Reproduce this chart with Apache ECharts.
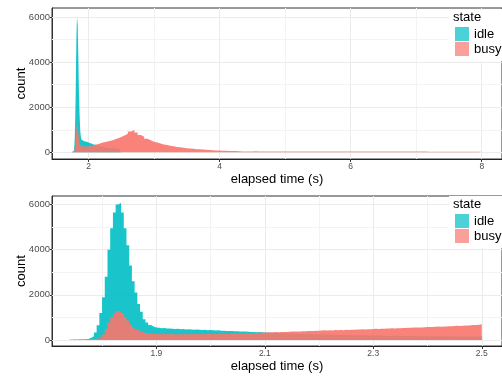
<!DOCTYPE html>
<html><head><meta charset="utf-8">
<script src="https://cdn.jsdelivr.net/npm/echarts@6/dist/echarts.min.js"></script>
<style>html,body{margin:0;padding:0;background:#fff}#c{width:502px;height:377px}</style>
</head><body><div id="c"></div>
<script>
// ---- data ----
const states = ['idle', 'busy'];
const fineStart = 1.74, fineWidth = 0.005;   // bins 1.740 .. 2.500
const idleFine = [
  0, 5, 10, 8, 20, 25, 40, 100, 170, 330,
  650, 1200, 1900, 2800, 4000, 4950, 5650, 6000, 6080, 5650, 4950, 4200, 3300, 2600, 2100, 1600, 1250, 920, 780, 670, 600, 560,
  545, 520, 530, 505, 512, 498, 490, 502, 480, 485,
  470, 478, 462, 455, 468, 450, 441, 452, 436, 440,
  428, 420, 432, 410, 415, 402, 398, 405, 390, 385,
  380, 372, 378, 362, 360, 355, 348, 352, 340, 336,
  330, 322, 318, 325, 310, 305, 300, 296, 290, 292,
  285, 280, 276, 270, 272, 265, 262, 258, 255, 250,
  248, 245, 240, 238, 236, 232, 230, 226, 225, 222,
  220, 218, 215, 212, 210, 208, 206, 205, 202, 200,
  198, 196, 195, 192, 190, 190, 188, 186, 185, 183,
  182, 180, 180, 178, 176, 175, 174, 172, 172, 170,
  170, 168, 168, 166, 165, 165, 164, 162, 162, 160,
  160, 160, 158, 158, 157, 156, 156, 155, 155, 154
];
const busyFine = [
  25, 35, 20, 30, 28, 35, 30, 45, 40, 55,
  70, 110, 240, 480, 780, 1020, 1190, 1280, 1290, 1200, 1030, 860, 700, 570, 470, 400, 350, 315, 295, 280, 270, 262,
  258, 265, 250, 262, 255, 268, 248, 260, 255, 264,
  252, 258, 266, 250, 262, 256, 270, 258, 262, 268,
  265, 272, 260, 275, 268, 280, 272, 285, 278, 290,
  295, 288, 300, 305, 298, 312, 318, 310, 325, 330,
  335, 342, 338, 350, 345, 355, 360, 352, 368, 372,
  375, 380, 372, 390, 385, 398, 402, 395, 410, 415,
  420, 428, 418, 432, 425, 440, 435, 445, 438, 450,
  448, 460, 455, 468, 462, 475, 470, 482, 478, 490,
  495, 488, 502, 498, 510, 505, 518, 512, 525, 520,
  535, 530, 545, 540, 552, 550, 560, 556, 568, 572,
  578, 572, 588, 594, 590, 602, 598, 612, 608, 620,
  628, 622, 636, 642, 638, 652, 660, 668, 675, 700
];
const tailStart = 2.5, tailWidth = 0.05;     // busy tail 2.50 .. 8.00
const busyTail = [
  740, 820, 925, 985, 880, 770, 690, 600, 530, 470,
  430, 385, 345, 320, 290, 265, 240, 220, 200, 185,
  170, 155, 140, 130, 120, 110, 100, 88, 82, 76,
  72, 68, 62, 58, 55, 50, 38, 36, 35, 34,
  42, 41, 41, 40, 40, 40, 39, 39, 39, 38,
  38, 38, 38, 37, 37, 37, 37, 36, 36, 36,
  36, 36, 35, 35, 35, 35, 35, 34, 34, 34,
  34, 34, 34, 33, 33, 33, 33, 33, 33, 32,
  32, 32, 32, 32, 32, 31, 31, 31, 31, 31,
  31, 31, 31, 30, 30, 30, 30, 30, 30, 30,
  30, 30, 30, 29, 29, 29, 29, 29, 29, 29
];
const topXTicks = [2, 4, 6, 8];
const topXMinor = [3, 5, 7];
const botXTicks = [1.9, 2.1, 2.3, 2.5];
const botXMinor = [1.8, 2.0, 2.2, 2.4];
const yTicks = [0, 2000, 4000, 6000];
const yMinor = [1000, 3000, 5000];

// ---- helpers ----
const FONT = 'Liberation Sans, Arial, Helvetica, sans-serif';
const idleFill = 'rgba(0,191,196,0.9)';
const busyFill = 'rgba(248,118,109,0.9)';
const idleKey = 'rgba(0,191,196,0.7)';
const busyKey = 'rgba(248,118,109,0.7)';
const r4 = v => Math.round(v * 10000) / 10000;
function stepPts(start, width, vals) { return vals.map((v, i) => [r4(start + i * width), v]); }
function closePts(pts, endX) { return pts.concat([[endX, pts[pts.length - 1][1]]]); }
const idleFinePts = closePts(stepPts(fineStart, fineWidth, idleFine), r4(fineStart + idleFine.length * fineWidth));
const busyFinePts = closePts(stepPts(fineStart, fineWidth, busyFine), r4(fineStart + busyFine.length * fineWidth));
const busyAllPts = closePts(
  stepPts(fineStart, fineWidth, busyFine).concat(stepPts(tailStart, tailWidth, busyTail)),
  r4(tailStart + busyTail.length * tailWidth));

function gridLines(xMaj, xMin) {
  const maj = {color: '#EBEBEB', width: 1, type: 'solid'};
  const min = {color: '#F3F3F3', width: 1, type: 'solid'};
  return {
    silent: true, symbol: 'none', label: {show: false}, z: 1, animation: false,
    emphasis: {disabled: true},
    data: [].concat(
      xMin.map(v => ({xAxis: v, lineStyle: min})),
      yMinor.map(v => ({yAxis: v, lineStyle: min})),
      xMaj.map(v => ({xAxis: v, lineStyle: maj})),
      yTicks.map(v => ({yAxis: v, lineStyle: maj}))
    )
  };
}
function area(name, idx, pts, fill, marks) {
  const s = {
    name: name, type: 'line', xAxisIndex: idx, yAxisIndex: idx,
    data: pts, step: 'end', symbol: 'none', showSymbol: false,
    lineStyle: {width: 0}, itemStyle: {color: fill},
    areaStyle: {color: fill, opacity: 1},
    silent: true, z: 3, animation: false, emphasis: {disabled: true}
  };
  if (marks) s.markLine = marks;
  return s;
}
function xAx(idx, min, max, ticks) {
  return {
    gridIndex: idx, type: 'value', min: min, max: max,
    name: 'elapsed time (s)', nameLocation: 'middle', nameGap: 14, nameMoveOverlap: false,
    nameTextStyle: {fontSize: 13, color: '#000', fontFamily: FONT},
    axisLine: {show: true, onZero: false, lineStyle: {color: '#222', width: 1}},
    axisTick: {show: true, length: 3, customValues: ticks, lineStyle: {color: '#333'}},
    axisLabel: {customValues: ticks, fontSize: 8.5, color: '#4d4d4d', margin: 3, fontFamily: FONT, formatter: v => String(v)},
    splitLine: {show: false}
  };
}
function yAx(idx, min, max) {
  return {
    gridIndex: idx, type: 'value', min: min, max: max,
    name: 'count', nameLocation: 'middle', nameGap: 24, nameMoveOverlap: false,
    nameTextStyle: {fontSize: 13, color: '#000', fontFamily: FONT},
    axisLine: {show: true, lineStyle: {color: '#333', width: 1}},
    axisTick: {show: true, length: 2, customValues: yTicks, lineStyle: {color: '#333'}},
    axisLabel: {customValues: yTicks, fontSize: 9.5, color: '#4d4d4d', margin: 2, fontFamily: FONT, formatter: v => String(v)},
    splitLine: {show: false}
  };
}
function legend(top) {
  return {
    left: 449, top: top, orient: 'vertical', icon: 'rect',
    itemWidth: 14, itemHeight: 14, itemGap: 1,
    padding: [18, 60, 5, 6], backgroundColor: '#fff', z: 20, selectedMode: false,
    textStyle: {fontSize: 13, color: '#000', fontFamily: FONT, lineHeight: 14},
    data: [
      {name: states[0], itemStyle: {color: idleKey, borderWidth: 0}},
      {name: states[1], itemStyle: {color: busyKey, borderWidth: 0}}
    ]
  };
}

const chart = echarts.init(document.getElementById('c'), null, {renderer: 'canvas'});
chart.setOption({
  animation: false,
  backgroundColor: '#fff',
  grid: [
    {left: 52, top: 8, right: -1, height: 151, show: true, borderColor: '#333', borderWidth: 1, backgroundColor: 'transparent'},
    {left: 52, top: 196, right: -1, height: 150, show: true, borderColor: '#333', borderWidth: 1, backgroundColor: 'transparent'}
  ],
  xAxis: [xAx(0, 1.443, 8.309, topXTicks), xAx(1, 1.7077, 2.5373, botXTicks)],
  yAxis: [yAx(0, -297, 6399), yAx(1, -265, 6380)],
  legend: [legend(9), legend(196)],
  graphic: [
    {type: 'text', left: 453, top: 11, z: 30, style: {text: 'state', font: '13px ' + FONT, fill: '#000'}},
    {type: 'text', left: 453, top: 198, z: 30, style: {text: 'state', font: '13px ' + FONT, fill: '#000'}}
  ],
  series: [
    area(states[0], 0, idleFinePts, idleFill, gridLines(topXTicks, topXMinor)),
    area(states[1], 0, busyAllPts, busyFill),
    area(states[0], 1, idleFinePts, idleFill, gridLines(botXTicks, botXMinor)),
    area(states[1], 1, busyFinePts, busyFill)
  ]
});
</script>
</body></html>
